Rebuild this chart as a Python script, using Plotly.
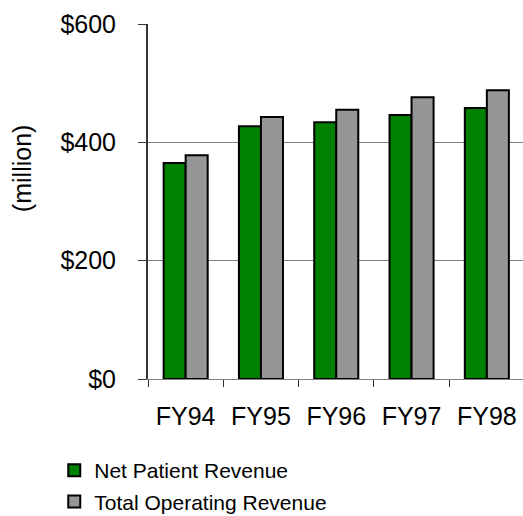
import plotly.graph_objects as go

categories = ["FY94", "FY95", "FY96", "FY97", "FY98"]
net_patient_revenue = [365, 427, 434, 446, 458]
total_operating_revenue = [378, 443, 455, 476, 488]
y_ticks = [0, 200, 400, 600]
y_tick_labels = ["$0", "$200", "$400", "$600"]

FONT = "Liberation Sans, Arial, sans-serif"

fig = go.Figure()
fig.add_trace(go.Bar(
    name="Net Patient Revenue", x=categories, y=net_patient_revenue,
    marker=dict(color="#008000", line=dict(color="#000000", width=2)),
    legendgroup="a",
))
fig.add_trace(go.Bar(
    name="Total Operating Revenue", x=categories, y=total_operating_revenue,
    marker=dict(color="#969696", line=dict(color="#000000", width=2)),
    legendgroup="b",
))

fig.update_layout(
    width=523, height=516,
    margin=dict(l=148, r=0, t=24, b=137, autoexpand=False),
    paper_bgcolor="white", plot_bgcolor="white",
    barmode="group", bargap=0.415, bargroupgap=0,
    font=dict(family=FONT, color="black", size=25),
    showlegend=True,
    legend=dict(
        x=-0.25, y=-0.2, xanchor="left", yanchor="top",
        orientation="v", traceorder="grouped", tracegroupgap=1,
        font=dict(size=21, family=FONT, color="black"),
        itemwidth=30, bgcolor="rgba(0,0,0,0)",
    ),
    xaxis=dict(
        type="category", range=[-0.5, 4.48], automargin=False,
        showline=True, linecolor="#808080", linewidth=1,
        ticks="outside", tickson="boundaries", ticklen=7, tickcolor="#333333", tickwidth=1,
        showgrid=False, tickfont=dict(size=25), ticklabelstandoff=15,
    ),
    yaxis=dict(
        range=[0, 600], tickvals=y_ticks, ticktext=y_tick_labels, automargin=False,
        showline=True, linecolor="#333333", linewidth=2,
        ticks="outside", ticklen=8, tickcolor="#333333", tickwidth=1,
        showgrid=True, gridcolor="#808080", gridwidth=1, zeroline=False,
        tickfont=dict(size=25), ticklabelstandoff=17,
    ),
    annotations=[dict(
        text="(million)", textangle=-90, showarrow=False,
        xref="paper", yref="paper", x=-0.336, y=0.594,
        xanchor="center", yanchor="middle", font=dict(size=25, family=FONT),
    )],
)

fig.write_html(
    "out.html",
    config={"displayModeBar": False},
    post_script="document.body.style.margin='0';document.body.style.overflow='hidden';",
)
